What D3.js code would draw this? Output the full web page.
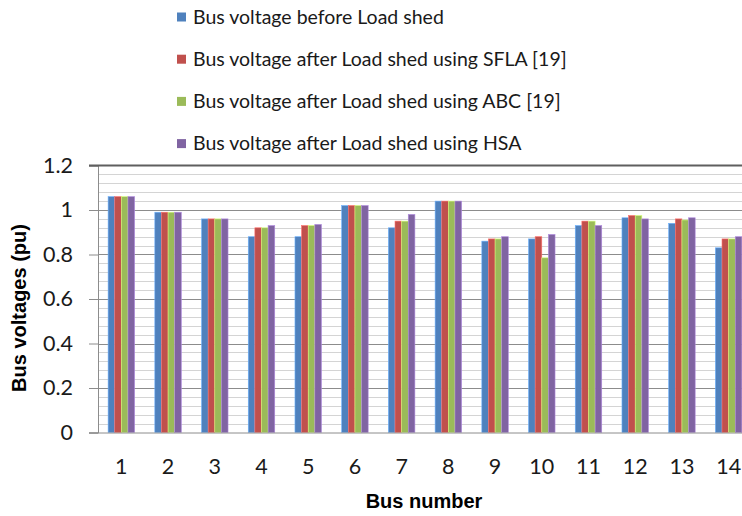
<!DOCTYPE html>
<html>
<head>
<meta charset="utf-8">
<script src="https://cdn.jsdelivr.net/npm/d3@7/dist/d3.min.js"></script>
<style>
  html, body { margin: 0; padding: 0; background: #fff; }
  svg { display: block; }
</style>
</head>
<body>
<div id="chart"></div>
<script>
// Bus voltage profile of the 14-bus system before and after load shedding
const buses = ["1","2","3","4","5","6","7","8","9","10","11","12","13","14"];
const seriesNames = [
  "Bus voltage before Load shed",
  "Bus voltage after Load shed using SFLA [19]",
  "Bus voltage after Load shed using ABC [19]",
  "Bus voltage after Load shed using HSA"
];
const beforeShed = [1.06, 0.99, 0.96, 0.88, 0.88, 1.02, 0.92, 1.04, 0.86, 0.87, 0.93, 0.965, 0.94, 0.83];
const sflaShed   = [1.06, 0.99, 0.96, 0.92, 0.93, 1.02, 0.95, 1.04, 0.87, 0.88, 0.95, 0.975, 0.96, 0.87];
const abcShed    = [1.06, 0.99, 0.96, 0.92, 0.93, 1.02, 0.95, 1.04, 0.87, 0.785, 0.95, 0.975, 0.955, 0.87];
const hsaShed    = [1.06, 0.99, 0.96, 0.93, 0.935, 1.02, 0.98, 1.04, 0.88, 0.89, 0.93, 0.96, 0.965, 0.88];
const yTicks = [0, 0.2, 0.4, 0.6, 0.8, 1, 1.2];
const colors = ["#4F81BD", "#C0504D", "#9BBB59", "#8064A2"];

const seriesValues = [beforeShed, sflaShed, abcShed, hsaShed];

const W = 742, H = 516;
const plot = { left: 98, right: 752, top: 165.5, bottom: 432.5 };

const svg = d3.select("#chart").append("svg")
  .attr("width", W).attr("height", H);

const x0 = d3.scaleBand().domain(buses)
  .range([plot.left, plot.right])
  .paddingInner(0.433).paddingOuter(0.2165);
const x1 = d3.scaleBand().domain(d3.range(seriesNames.length))
  .range([0, x0.bandwidth()]);
const y = d3.scaleLinear().domain([0, 1.2]).range([plot.bottom, plot.top]);

// minor gridlines every 0.04
const minor = d3.range(0, 1.2001, 0.04).filter(v => Math.abs(v / 0.2 - Math.round(v / 0.2)) > 1e-6);
svg.append("g").selectAll("line").data(minor).join("line")
  .attr("x1", plot.left).attr("x2", plot.right)
  .attr("y1", d => Math.round(y(d)) + 0.5).attr("y2", d => Math.round(y(d)) + 0.5)
  .attr("stroke", "#d4d4d4").attr("stroke-width", 1);

// y axis with major gridlines
const yAxis = d3.axisLeft(y).tickValues(yTicks).tickFormat(d3.format("~g"))
  .tickSize(9).tickPadding(16);
const gy = svg.append("g").attr("transform", `translate(${plot.left},0)`).call(yAxis);
gy.select(".domain").attr("stroke", "#8c8c8c");
gy.selectAll(".tick line").attr("stroke", "#8c8c8c");
gy.selectAll(".tick text")
  .attr("fill", "#1a1a1a")
  .style("font-family", "Lato, 'Open Sans', sans-serif")
  .style("font-size", "21.5px");
svg.append("g").selectAll("line").data(yTicks.slice(1, -1)).join("line")
  .attr("x1", plot.left).attr("x2", plot.right)
  .attr("y1", d => Math.round(y(d)) + 0.5).attr("y2", d => Math.round(y(d)) + 0.5)
  .attr("stroke", "#8c8c8c").attr("stroke-width", 1);

// top border of the plot area
svg.append("line")
  .attr("x1", plot.left - 9).attr("x2", plot.right)
  .attr("y1", y(1.2)).attr("y2", y(1.2))
  .attr("stroke", "#5f5f5f").attr("stroke-width", 2);

// bars
const groups = svg.append("g").selectAll("g").data(buses).join("g")
  .attr("transform", d => `translate(${x0(d)},0)`);
groups.selectAll("rect")
  .data((d, i) => seriesValues.map((vals, s) => ({ s, v: vals[i] })))
  .join("rect")
  .attr("x", d => x1(d.s))
  .attr("width", x1.bandwidth())
  .attr("y", d => y(d.v))
  .attr("height", d => y(0) - y(d.v))
  .attr("fill", d => colors[d.s])
  .attr("stroke", d => d3.color(colors[d.s]).brighter(0.9))
  .attr("stroke-width", 0.6);

// x axis
const xAxis = d3.axisBottom(x0).tickSize(0).tickPadding(26);
const gx = svg.append("g").attr("transform", `translate(0,${plot.bottom})`).call(xAxis);
gx.select(".domain").remove();
gx.selectAll(".tick text")
  .attr("fill", "#1a1a1a")
  .style("font-family", "Lato, 'Open Sans', sans-serif")
  .style("font-size", "21.5px");
svg.append("line")
  .attr("x1", plot.left - 9).attr("x2", plot.right)
  .attr("y1", plot.bottom + 0.5).attr("y2", plot.bottom + 0.5)
  .attr("stroke", "#8c8c8c");

// axis titles
svg.append("text")
  .attr("x", 424).attr("y", 508)
  .attr("text-anchor", "middle")
  .style("font-family", "'Liberation Sans', Arial, sans-serif")
  .style("font-weight", "bold").style("font-size", "20px")
  .attr("fill", "#000")
  .text("Bus number");
svg.append("text")
  .attr("transform", "translate(26,308) rotate(-90)")
  .attr("text-anchor", "middle")
  .style("font-family", "'Liberation Sans', Arial, sans-serif")
  .style("font-weight", "bold").style("font-size", "20px")
  .attr("fill", "#000")
  .text("Bus voltages (pu)");

// legend
const legend = svg.append("g").selectAll("g").data(seriesNames).join("g")
  .attr("transform", (d, i) => `translate(177,${17 + i * 42.2})`);
legend.append("rect")
  .attr("x", 0).attr("y", -4.5).attr("width", 9).attr("height", 9)
  .attr("fill", (d, i) => colors[i]);
legend.append("text")
  .attr("x", 16).attr("y", 0).attr("dy", "0.35em")
  .style("font-family", "Lato, 'Open Sans', sans-serif")
  .style("font-size", "19.5px")
  .attr("fill", "#1a1a1a")
  .text(d => d);
</script>
</body>
</html>
